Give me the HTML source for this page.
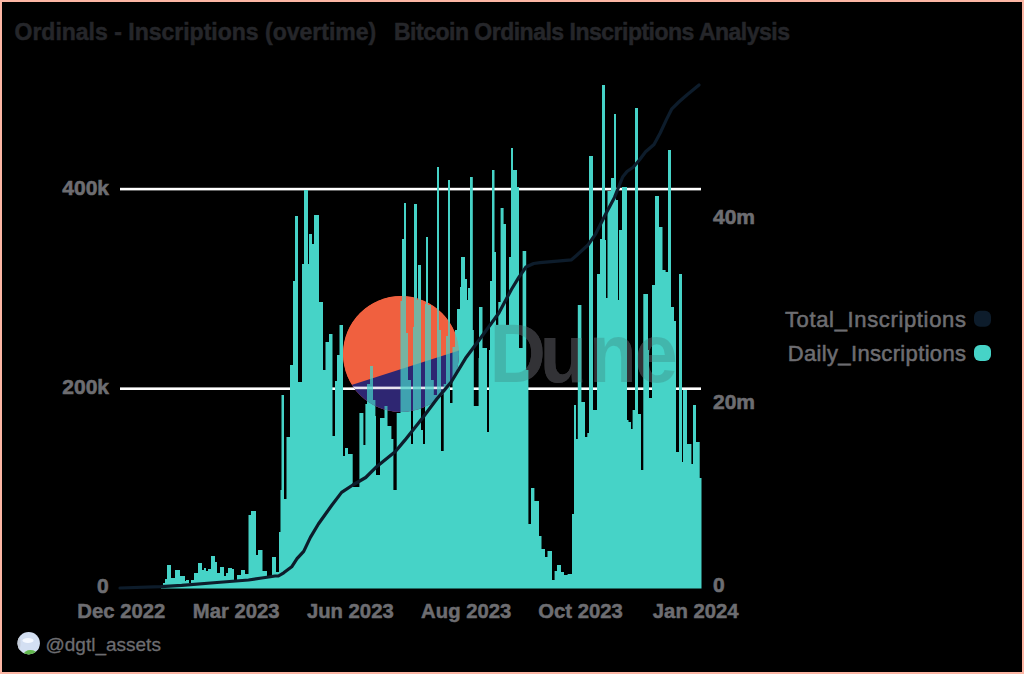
<!DOCTYPE html>
<html><head><meta charset="utf-8"><style>
html,body{margin:0;padding:0;}
body{width:1024px;height:674px;overflow:hidden;background:#fcb6a4;position:relative;}
#frame{position:absolute;left:2px;top:2px;width:1020px;height:670px;background:#000;}
svg{position:absolute;left:0;top:0;}
text{font-family:"Liberation Sans",sans-serif;}
</style></head><body>
<div id="frame"></div>
<svg width="1024" height="674" viewBox="0 0 1024 674">
<defs>
<path id="bars" d="M161,588.5 V585 H163 V583 H165 V579 H167 V565 H171 V578 H175 V570 H180 V576 H185 V581 H186 V580 H189 V583 H191 V580 H194 V573 H198 V563 H202 V570 H204 V568 H206 V571 H208 V569 H211 V556 H215 V562 H217 V573 H220 V567 H224 V576 H226 V573 H228 V568 H232 V569 H234 V581 H237 V575 H241 V570 H245 V574 H248.5 V515 H251 V511 H256 V555 H258 V550 H262.5 V571 H267 V578 H272 V557 H276 V572 H279 V532 H280.5 V490 H281.5 V395 H284 V499 H286.5 V437 H290 V365 H293 V281 H295 V216 H298 V382 H302 V264 H304 V190 H308 V264 H309 V234 H312 V244 H314 V215 H319 V302 H323 V370 H325.5 V342 H329 V334 H332.5 V436 H335 V381 H337 V355 H339.5 V325 H343 V456 H345 V448 H348 V454 H352.7 V487 H359.4 V413 H363.4 V445 H365.4 V404 H367 V384 H370 V366 H373 V400 H375.4 V416 H376 V475 H380 V418 H384.5 V406 H387.5 V426 H391.4 V439 H393.4 V490 H396.7 V413 H400.5 V301 H402 V239 H404 V203 H406 V333 H408 V380 H411 V444 H413 V327 H414 V204 H417 V300 H418 V265 H421 V430 H423 V444 H425 V304 H426 V237 H428 V305 H431 V380 H433.8 V395 H437 V167 H439 V330 H441 V451 H443.7 V384 H446 V336 H448 V180 H450 V403 H452.5 V347 H455 V330 H457 V309 H460 V287 H461 V257 H465 V279 H467 V300 H468 V288 H470 V177 H472.8 V330 H473.8 V406 H478.6 V358 H479 V307 H482.5 V348 H487 V432 H489 V350 H490 V281 H492 V170 H494.5 V252 H496 V325 H498.3 V302 H500.6 V208 H503.6 V224 H506 V325 H509 V257 H511 V148 H513 V170 H517 V187 H519 V348 H522.6 V251 H526.2 V370 H528.4 V524 H531 V488 H534.4 V501 H539 V536 H541.5 V549 H545 V557 H547.5 V551 H552 V580 H554.6 V571 H557 V565 H561 V572 H564 V575 H567.6 V574 H572 V514 H574 V405 H576 V439 H577.8 V305 H581.4 V402 H585 V437 H587.3 V433 H589 V156 H593 V410 H597 V274 H600 V239 H602 V85 H605 V240 H606 V298 H607.5 V191 H611 V178 H614 V114 H616 V200 H618 V300 H619 V230 H622 V187 H627 V420 H628.5 V422 H631 V429 H632.6 V410 H635 V108 H638 V414 H641 V470 H643.3 V294 H648 V350 H649 V398 H652 V285 H655 V196 H659 V227 H662.5 V270 H665.6 V272 H668 V150 H671 V307 H674 V321 H676 V452 H679 V274 H682 V462 H683 V390 H687 V444 H691.4 V464 H693 V405 H696 V442 H699.7 V478 H701.5 V588.5 Z"/>
<clipPath id="circClip"><circle cx="401" cy="354" r="58"/></clipPath>
<clipPath id="textClip"><text x="489.5 539.8 589 634.5" y="382" font-size="78" font-weight="700" font-family="Liberation Sans" transform="translate(0,382) scale(1,1.07) translate(0,-382)">Dune</text></clipPath>
</defs>
<g font-weight="700" stroke="#25262a" stroke-width="0.5">
<text x="14.5" y="39.6" font-size="23" fill="#25262a">Ordinals - Inscriptions (overtime)</text>
<text x="394" y="39.6" font-size="23" fill="#25262a" letter-spacing="-0.5">Bitcoin Ordinals Inscriptions Analysis</text>
</g>
<!-- logo under -->
<g>
<circle cx="401" cy="354" r="58" fill="#f0603f"/>
<path d="M330,392 L470,347 L470,430 L330,430 Z" fill="#2e2672" clip-path="url(#circClip)"/>
<text x="489.5 539.8 589 634.5" y="382" font-size="78" font-weight="700" fill="#323236" transform="translate(0,382) scale(1,1.07) translate(0,-382)">Dune</text>
</g>
<!-- gridlines -->
<rect x="120" y="187.8" width="581" height="2.6" fill="#ffffff"/>
<rect x="120" y="387.4" width="581" height="2.6" fill="#ffffff"/>
<!-- bars: full outside logo -->
<use href="#bars" fill="#46d3c7"/>
<g clip-path="url(#circClip)">
<circle cx="401" cy="354" r="58" fill="#f0603f"/>
<path d="M330,392 L470,347 L470,430 L330,430 Z" fill="#2e2672"/>
<rect x="342" y="386.6" width="120" height="2.6" fill="#e8e4f0"/>
<use href="#bars" fill="#46d3c7" opacity="0.72"/>
</g>
<g clip-path="url(#textClip)">
<rect x="480" y="300" width="220" height="100" fill="#323236"/>
<rect x="480" y="387.4" width="221" height="2.6" fill="#ffffff"/>
<use href="#bars" fill="#46d3c7" opacity="0.82"/>
</g>
<!-- line -->
<path d="M120,588 L161,586.6 L181.7,585.4 L217,582.5 L248.5,580 L261.8,578 L268.6,577 L275,576 L278.4,576 L283.7,572.8 L291.7,566.8 L297,558.7 L303.7,551.4 L310.4,537.4 L318.4,524 L325,514.7 L331.8,505.3 L341.6,492.4 L352.8,485 L365.7,477.5 L376.9,466.4 L395.4,451.5 L404.7,440.4 L422.7,417.7 L437,398.7 L451.2,382 L465.5,358.3 L479.7,339.3 L498.7,313.2 L511.4,289.5 L518.8,277.4 L526,267 L533.7,263.5 L540,262.6 L571.5,259.8 L577,255 L588,245 L595.7,233.8 L606.2,213 L614.5,197.4 L622.8,176.7 L627,171.5 L633.2,167.3 L639.4,160 L645.6,151.8 L654,144.5 L660.2,133 L666.4,119.6 L671.6,109.2 L678.8,102 L687.1,94.7 L699,85" fill="none" stroke="#0d1c2b" stroke-width="3.2" stroke-linejoin="round" stroke-linecap="round"/>
<!-- axis labels -->
<g font-weight="700" font-size="21" fill="#6d6d71" stroke="#6d6d71" stroke-width="0.6">
<text x="109" y="194.6" text-anchor="end">400k</text>
<text x="109" y="394" text-anchor="end">200k</text>
<text x="108.6" y="593" text-anchor="end">0</text>
<text x="713" y="224" >40m</text>
<text x="713" y="408.6">20m</text>
<text x="713" y="592.4">0</text>
</g>
<g font-weight="700" font-size="20.3" fill="#6d6d71" stroke="#6d6d71" stroke-width="0.5" text-anchor="middle">
<text x="121.3" y="617.5">Dec 2022</text>
<text x="236.2" y="617.5">Mar 2023</text>
<text x="350.3" y="617.5">Jun 2023</text>
<text x="466.2" y="617.5">Aug 2023</text>
<text x="580.5" y="617.5">Oct 2023</text>
<text x="695.7" y="617.5">Jan 2024</text>
</g>
<!-- legend -->
<g font-weight="400" font-size="22" fill="#6d6d71" stroke="#6d6d71" stroke-width="0.55" text-anchor="end">
<text x="966.6" y="326.9" letter-spacing="0.65">Total_Inscriptions</text>
<text x="966.4" y="360.5" letter-spacing="0.35">Daily_Inscriptions</text>
</g>
<rect x="974" y="310.8" width="17" height="16" rx="6" fill="#0d1c2b"/>
<rect x="974" y="345" width="17" height="16" rx="6" fill="#46d3c7"/>
<!-- avatar -->
<circle cx="28.7" cy="643.2" r="11.2" fill="#d3dff2"/>
<clipPath id="avClip"><circle cx="28.7" cy="643.2" r="11.2"/></clipPath>
<g clip-path="url(#avClip)">
<ellipse cx="30.5" cy="655" rx="7" ry="5" fill="#62b74e"/>
<ellipse cx="28" cy="640.5" rx="5.5" ry="2.5" fill="#f4f8ff"/>
<ellipse cx="18" cy="643" rx="2.5" ry="8" fill="#c4ccd8"/>
</g>
<text x="45.5" y="651" font-size="19" fill="#6d6d71" stroke="#6d6d71" stroke-width="0.3">@dgtl_assets</text>
</svg>
</body></html>
